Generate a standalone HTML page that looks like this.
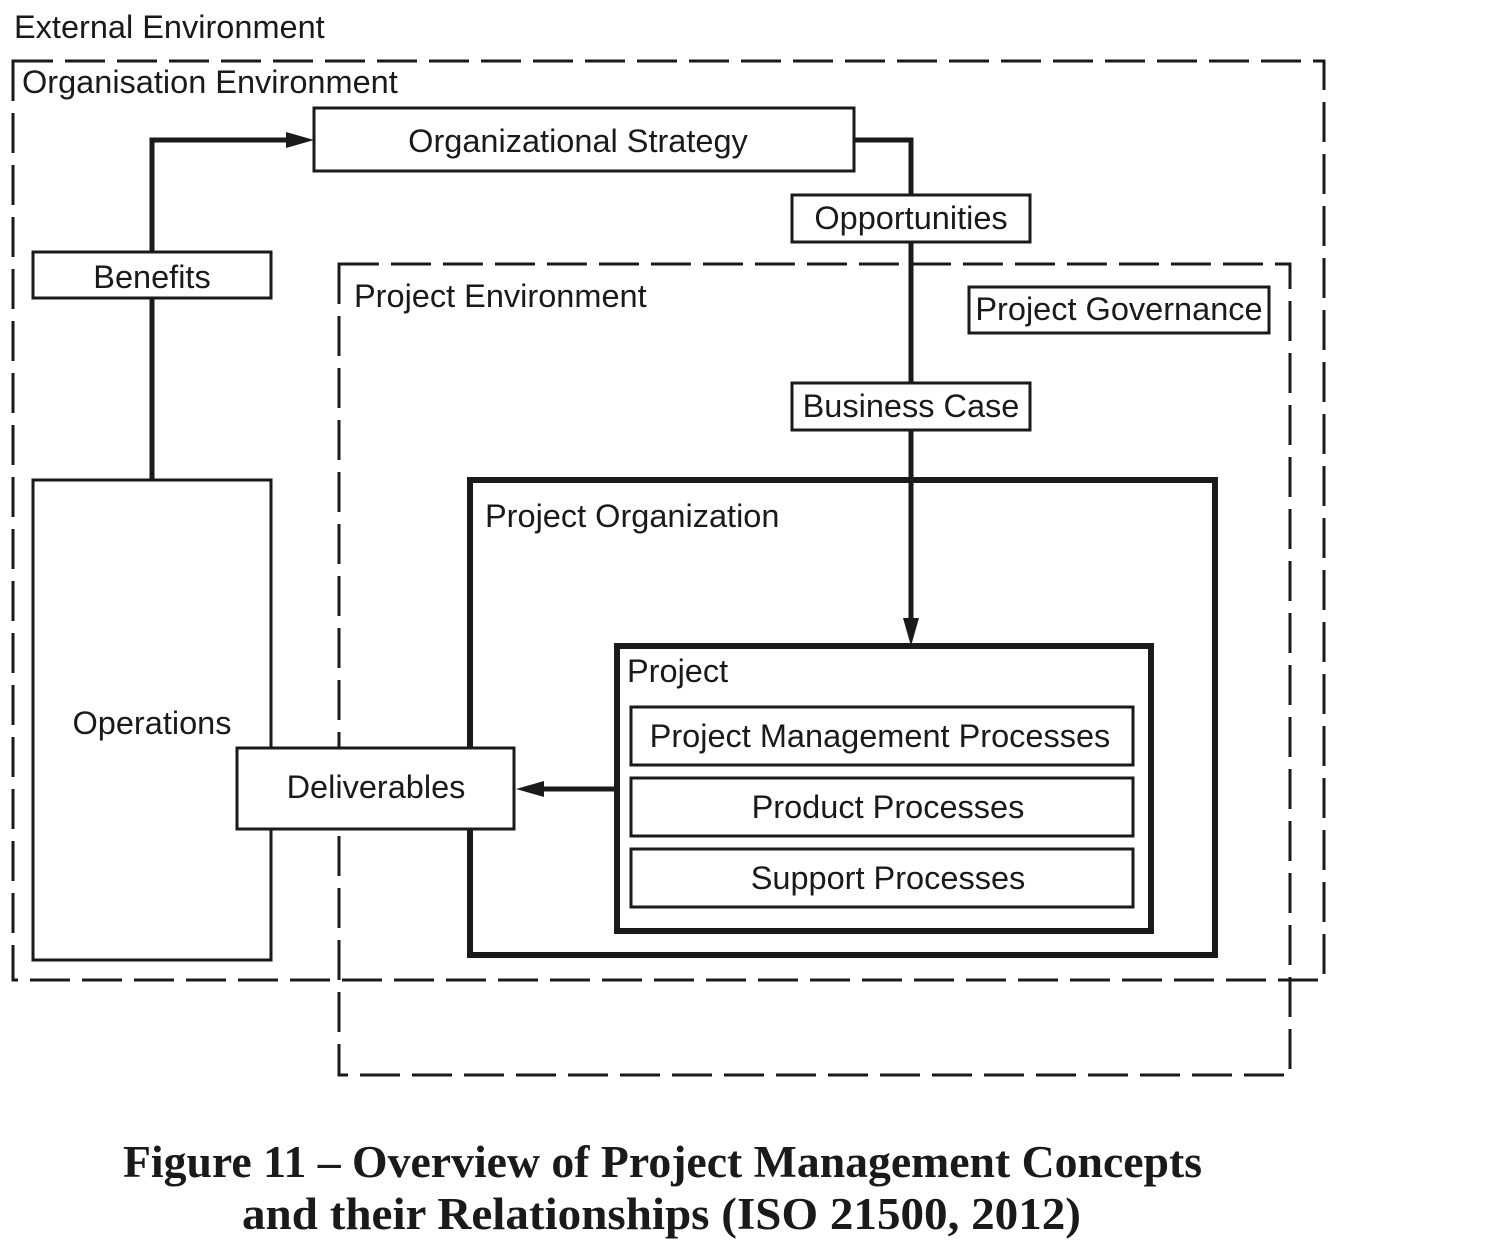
<!DOCTYPE html>
<html><head><style>
html,body{margin:0;padding:0;background:#fff;}
svg{display:block;}
text{font-family:"Liberation Sans",sans-serif;fill:#1a1a1a;}
.c{font-family:"Liberation Serif",serif;font-weight:bold;font-size:45px;}
</style></head><body>
<svg width="1512" height="1241" viewBox="0 0 1512 1241" xmlns="http://www.w3.org/2000/svg">
<g fill="none" stroke="#1a1a1a">
<rect x="13" y="61" width="1311" height="919" stroke-width="3" stroke-dasharray="40,12"/>
<rect x="339" y="264" width="951" height="811" stroke-width="3" stroke-dasharray="40,12"/>
<polyline points="152,252 152,140 290,140" stroke-width="5"/>
<line x1="152" y1="298" x2="152" y2="480" stroke-width="5"/>
<polyline points="854,140 911,140 911,622" stroke-width="5"/>
<line x1="615" y1="789" x2="540" y2="789" stroke-width="5"/>
</g>
<g fill="#1a1a1a">
<polygon points="314,140 286,132 286,148"/>
<polygon points="911,646 903,618 919,618"/>
<polygon points="516,789 544,781 544,797"/>
</g>
<g fill="#fff" stroke="#1a1a1a" stroke-width="3">
<rect x="314" y="108" width="540" height="63"/>
<rect x="792" y="195" width="238" height="47"/>
<rect x="969" y="287" width="300" height="46"/>
<rect x="792" y="383" width="238" height="47"/>
<rect x="33" y="252" width="238" height="46"/>
<rect x="33" y="480" width="238" height="480"/>
</g>
<rect x="470" y="480" width="745" height="475" fill="none" stroke="#1a1a1a" stroke-width="6"/>
<line x1="911" y1="483" x2="911" y2="622" stroke="#1a1a1a" stroke-width="5"/>
<rect x="237" y="748" width="277" height="81" fill="#fff" stroke="#1a1a1a" stroke-width="3"/>
<rect x="617" y="646" width="534" height="285" fill="#fff" stroke="#1a1a1a" stroke-width="6"/>
<g fill="#fff" stroke="#1a1a1a" stroke-width="3">
<rect x="631" y="707" width="502" height="58"/>
<rect x="631" y="778" width="502" height="58"/>
<rect x="631" y="849" width="502" height="58"/>
</g>
<g font-size="32.5">
<text x="14" y="38">External Environment</text>
<text x="22" y="93">Organisation Environment</text>
<text x="578" y="152" text-anchor="middle">Organizational Strategy</text>
<text x="911" y="229" text-anchor="middle">Opportunities</text>
<text x="354" y="307">Project Environment</text>
<text x="1119" y="320" text-anchor="middle">Project Governance</text>
<text x="911" y="417" text-anchor="middle">Business Case</text>
<text x="152" y="288" text-anchor="middle">Benefits</text>
<text x="152" y="734" text-anchor="middle">Operations</text>
<text x="376" y="798" text-anchor="middle">Deliverables</text>
<text x="485" y="527">Project Organization</text>
<text x="627" y="682">Project</text>
<text x="880" y="747" text-anchor="middle">Project Management Processes</text>
<text x="888" y="818" text-anchor="middle">Product Processes</text>
<text x="888" y="889" text-anchor="middle">Support Processes</text>
</g>
<text class="c" x="123" y="1177" textLength="1079" lengthAdjust="spacingAndGlyphs">Figure 11 – Overview of Project Management Concepts</text>
<text class="c" x="242" y="1229" textLength="839" lengthAdjust="spacingAndGlyphs">and their Relationships (ISO 21500, 2012)</text>
</svg>
</body></html>
